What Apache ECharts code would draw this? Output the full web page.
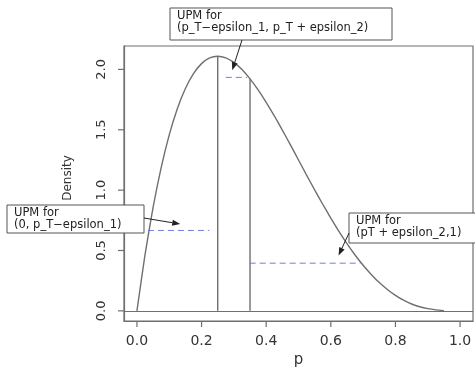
<!DOCTYPE html>
<html>
<head>
<meta charset="utf-8">
<script src="https://cdn.jsdelivr.net/npm/echarts@6/dist/echarts.min.js"></script>
<style>
  html, body { margin: 0; padding: 0; background: #fff; }
  #chart { width: 475px; height: 367px; }
</style>
</head>
<body>
<div id="chart"></div>
<script>
// density curve
var pGrid = [0, 0.025, 0.05, 0.075, 0.1, 0.125, 0.15, 0.175, 0.2, 0.225, 0.25, 0.275, 0.3, 0.325,
  0.35, 0.375, 0.4, 0.425, 0.45, 0.475, 0.5, 0.525, 0.55, 0.575, 0.6, 0.625, 0.65, 0.675, 0.7,
  0.725, 0.75, 0.775, 0.8, 0.825, 0.85, 0.875, 0.9, 0.925, 0.95];
var density = [0, 0.463, 0.857, 1.187, 1.458, 1.675, 1.842, 1.965, 2.048, 2.095, 2.109, 2.096, 2.058, 1.999,
  1.922, 1.831, 1.728, 1.616, 1.497, 1.375, 1.25, 1.125, 1.002, 0.883, 0.768, 0.659, 0.557, 0.463, 0.378,
  0.302, 0.234, 0.177, 0.128, 0.088, 0.057, 0.034, 0.018, 0.008, 0.002];

// vertical cut lines (p_T - eps1, p_T + eps2) and their heights
var cutP = [0.25, 0.35];
var cutH = [2.109, 1.922];

// UPM levels (dashed) and their spans
var upmLevel = [0.666, 1.934, 0.395];
var upmFrom = [0.034, 0.275, 0.349];
var upmTo = [0.224, 0.341, 0.692];

// where the arrows point
var arrowTipP = [0.134, 0.295, 0.624];
var arrowTipD = [0.719, 1.994, 0.459];

var xTicks = [0, 0.2, 0.4, 0.6, 0.8, 1.0];
var yTicks = [0, 0.5, 1.0, 1.5, 2.0];

var labels = [
  ['UPM for', '(0, p_T\u2212epsilon_1)'],
  ['UPM for', '(p_T\u2212epsilon_1, p_T + epsilon_2)'],
  ['UPM for', '(pT + epsilon_2,1)']
];
// annotation boxes [x, y, w, h] and arrow start points, in pixels
var boxes = [[7, 205, 137, 28], [170, 8, 222, 32], [349, 213, 130, 30]];
var arrowFrom = [[144, 218], [242, 40], [349, 233]];

var GREY = '#6f6f6f';
var X_MIN = -0.04, X_MAX = 1.04, Y_MIN = -0.084, Y_MAX = 2.194;
var chart = echarts.init(document.getElementById('chart'));

var series = [];
series.push({
  type: 'line',
  data: pGrid.map(function (p, i) { return [p, density[i]]; }),
  showSymbol: false,
  smooth: 0.2,
  lineStyle: { color: GREY, width: 1.4 },
  silent: true,
  markLine: {
    silent: true,
    symbol: ['none', 'none'],
    label: { show: false },
    lineStyle: { color: GREY, width: 1.2, type: 'solid' },
    data: [{ yAxis: 0 }]
  }
});
cutP.forEach(function (c, i) {
  series.push({
    type: 'line',
    data: [[c, 0], [c, cutH[i]]],
    showSymbol: false,
    lineStyle: { color: GREY, width: 1.4 },
    silent: true
  });
});
upmLevel.forEach(function (v, i) {
  series.push({
    type: 'line',
    data: [[upmFrom[i], v], [upmTo[i], v]],
    showSymbol: false,
    lineStyle: { color: '#6f7fd8', width: 1, type: [6, 4] },
    silent: true
  });
});

chart.setOption({
  animation: false,
  backgroundColor: '#fff',
  grid: {
    left: 124, right: 2, top: 46, bottom: 46,
    outerBoundsMode: 'none',
    containLabel: false,
    show: true, borderColor: GREY, borderWidth: 1.2, backgroundColor: 'transparent'
  },
  xAxis: {
    type: 'value',
    min: X_MIN, max: X_MAX,
    name: 'p',
    nameLocation: 'middle',
    nameGap: 29,
    nameTextStyle: { fontFamily: 'DejaVu Sans', fontSize: 15, color: '#333' },
    axisLine: { show: true, onZero: false, lineStyle: { color: GREY, width: 1.2 } },
    splitLine: { show: false },
    axisTick: { show: false },
    axisLabel: {
      customValues: xTicks,
      margin: 13,
      fontFamily: 'DejaVu Sans', fontSize: 14, color: '#333',
      formatter: function (v) { return v.toFixed(1); }
    }
  },
  yAxis: {
    type: 'value',
    min: Y_MIN, max: Y_MAX,
    axisLine: { show: true, onZero: false, lineStyle: { color: GREY, width: 1.2 } },
    splitLine: { show: false },
    axisTick: { show: false },
    axisLabel: {
      customValues: yTicks,
      rotate: 90,
      margin: 16,
      fontFamily: 'DejaVu Sans', fontSize: 13, color: '#333',
      formatter: function (v) { return v.toFixed(1); }
    }
  },
  series: series
});

var graphics = [];

// outward tick marks at the tick values, placed through the axis scales
var corner = chart.convertToPixel({ gridIndex: 0 }, [X_MIN, Y_MIN]);
xTicks.forEach(function (v) {
  var px = chart.convertToPixel({ xAxisIndex: 0 }, v);
  graphics.push({ type: 'line', shape: { x1: px, y1: corner[1], x2: px, y2: corner[1] + 6 },
    style: { stroke: GREY, lineWidth: 1.2 } });
});
yTicks.forEach(function (v) {
  var py = chart.convertToPixel({ yAxisIndex: 0 }, v);
  graphics.push({ type: 'line', shape: { x1: corner[0], y1: py, x2: corner[0] - 6, y2: py },
    style: { stroke: GREY, lineWidth: 1.2 } });
});

// y axis title
graphics.push({
  type: 'text', x: 68, y: 178, rotation: Math.PI / 2,
  style: { text: 'Density', fontFamily: 'DejaVu Sans', fontSize: 12, fill: '#333',
    align: 'center', verticalAlign: 'middle' }
});

// annotation boxes with arrows pointing at the dashed levels
labels.forEach(function (lines, i) {
  var b = boxes[i];
  graphics.push({
    type: 'rect', z: 100,
    shape: { x: b[0], y: b[1], width: b[2], height: b[3] },
    style: { fill: '#fff', stroke: '#555', lineWidth: 1 }
  });
  graphics.push({
    type: 'text', z: 101,
    x: b[0] + 7, y: b[1] + 2,
    style: {
      text: lines.join('\n'),
      fontFamily: 'DejaVu Sans', fontSize: 11.5, lineHeight: 12, fill: '#222'
    }
  });
  var tip = chart.convertToPixel({ gridIndex: 0 }, [arrowTipP[i], arrowTipD[i]]);
  var s = arrowFrom[i];
  var dx = tip[0] - s[0], dy = tip[1] - s[1];
  var len = Math.sqrt(dx * dx + dy * dy);
  var ux = dx / len, uy = dy / len;
  var hl = 8, hw = 3;
  var bx = tip[0] - ux * hl, by = tip[1] - uy * hl;
  graphics.push({
    type: 'line', z: 100,
    shape: { x1: s[0], y1: s[1], x2: bx, y2: by },
    style: { stroke: '#222', lineWidth: 1 }
  });
  graphics.push({
    type: 'polygon', z: 100,
    shape: { points: [tip, [bx - uy * hw, by + ux * hw], [bx + uy * hw, by - ux * hw]] },
    style: { fill: '#222' }
  });
});
chart.setOption({ graphic: graphics });
</script>
</body>
</html>
